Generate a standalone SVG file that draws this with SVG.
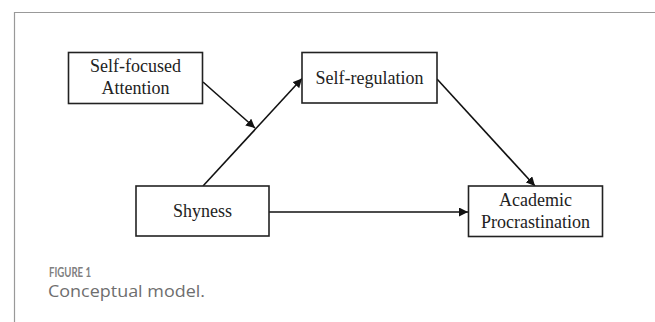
<svg xmlns="http://www.w3.org/2000/svg" width="655" height="322" viewBox="0 0 655 322">
<defs>
<marker id="ah" viewBox="0 0 10 10" refX="10" refY="5" markerWidth="9" markerHeight="9" markerUnits="userSpaceOnUse" orient="auto">
<path d="M0,0 L10,5 L0,10 z" fill="#111"/>
</marker>
<style>
.box{fill:#fff;stroke:#222;stroke-width:1.6}
.lbl{font-family:"Liberation Serif","Times New Roman",serif;font-size:18px;fill:#222;text-anchor:middle}
.edge{stroke:#111;stroke-width:1.6;fill:none;marker-end:url(#ah)}
.frame{stroke:#999;stroke-width:1.2;fill:none}
</style>
</defs>
<rect width="655" height="322" fill="#fff"/>
<path class="frame" d="M14.5,322 V12.5 H655"/>
<g id="connectors">
<line class="edge" x1="203" y1="186" x2="302" y2="78.5"/>
<line class="edge" x1="203" y1="82" x2="255" y2="128"/>
<line class="edge" x1="437" y1="79" x2="535" y2="186"/>
<line class="edge" x1="269" y1="212" x2="468" y2="212"/>
</g>
<g id="node-sfa">
<rect class="box" x="68.5" y="52.5" width="134" height="51"/>
<text class="lbl" x="135.5" y="72">Self-focused</text>
<text class="lbl" x="135.5" y="93.5">Attention</text>
</g>
<g id="node-sr">
<rect class="box" x="302" y="52.5" width="135" height="50.5"/>
<text class="lbl" x="369.5" y="83.5">Self-regulation</text>
</g>
<g id="node-shy">
<rect class="box" x="136" y="186" width="133" height="50"/>
<text class="lbl" x="202.5" y="217">Shyness</text>
</g>
<g id="node-ap">
<rect class="box" x="468.5" y="186" width="134" height="50.5"/>
<text class="lbl" x="535.5" y="206">Academic</text>
<text class="lbl" x="535.5" y="227.5">Procrastination</text>
</g>
<g id="caption">
<text x="49" y="277" font-family="Lato,'Open Sans',sans-serif" font-size="13" font-weight="700" fill="#808080" textLength="42" lengthAdjust="spacingAndGlyphs">FIGURE 1</text>
<text x="48" y="297" font-family="'Open Sans','Noto Sans',sans-serif" font-size="16.5" font-weight="400" fill="#6e6e6e" textLength="157" lengthAdjust="spacingAndGlyphs">Conceptual model.</text>
</g>
</svg>
